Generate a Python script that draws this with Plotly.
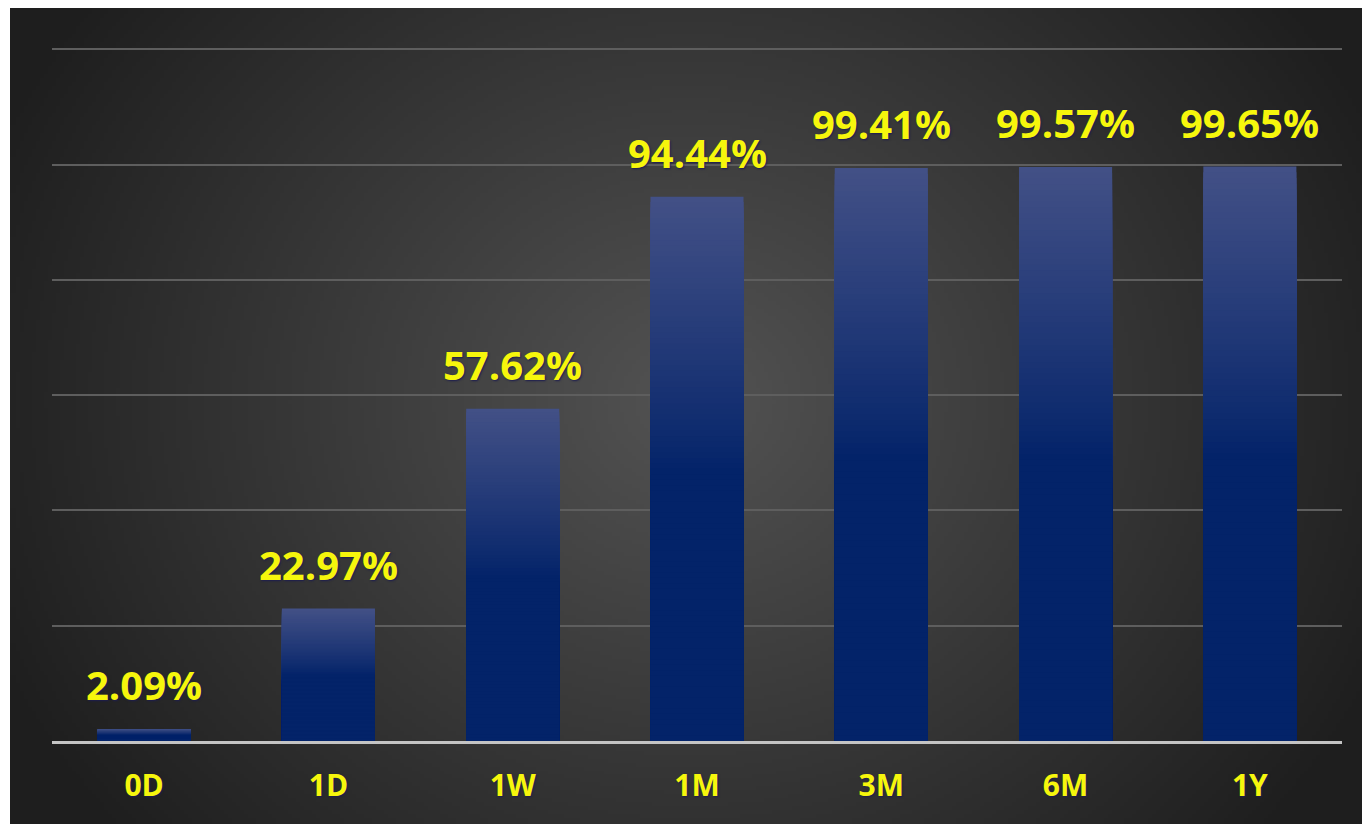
import base64, struct, zlib
import numpy as np
import plotly.graph_objects as go

# ---- data ----
categories = ["0D", "1D", "1W", "1M", "3M", "6M", "1Y"]
values = [2.09, 22.97, 57.62, 94.44, 99.41, 99.57, 99.65]
labels = [f"{v:.2f}%" for v in values]

# ---- figure geometry (page body has an 8px margin) ----
OFF = 8
W, H = 1370 - OFF, 824 - OFF
ML, MT = 52 - OFF, 47 - OFF
MR = W - (1342 - OFF)
MB = H - (741 - OFF)
PW, PH = W - ML - MR, H - MT - MB

# ---- radial background image (style only) ----
def png_uri(arr):
    h, w, _ = arr.shape
    raw = b"".join(b"\x00" + arr[i].tobytes() for i in range(h))
    def chunk(tag, data):
        return (struct.pack(">I", len(data)) + tag + data +
                struct.pack(">I", zlib.crc32(tag + data) & 0xFFFFFFFF))
    png = (b"\x89PNG\r\n\x1a\n" +
           chunk(b"IHDR", struct.pack(">IIBBBBB", w, h, 8, 2, 0, 0, 0)) +
           chunk(b"IDAT", zlib.compress(raw, 9)) + chunk(b"IEND", b""))
    return "data:image/png;base64," + base64.b64encode(png).decode()

BX0, BY0 = 10 - OFF, 0  # figure-pixel origin of the dark panel
bw, bh = 340, 205
xs = np.linspace(10, 1370, bw)
ys = np.linspace(6, 824, bh)
X, Y = np.meshgrid(xs, ys)
d = np.sqrt(((X - 690) / 720) ** 2 + ((Y - 400) / 640) ** 2)
c = np.clip(83 - 50 * d, 30, 90)
bg = np.stack([c, c, c], axis=-1).astype(np.uint8)
bg_uri = png_uri(bg)

fig = go.Figure()

# ---- gradient bars via overlaid bars of decreasing height ----
N = 100
light = np.array([0x42, 0x50, 0x86])
dark = np.array([0x03, 0x23, 0x69])
for k in range(N, 0, -1):
    f = k / N
    t = np.clip((f - 0.5) / 0.5, 0, 1) ** 0.9
    col = dark + (light - dark) * t
    colstr = "rgb(%d,%d,%d)" % tuple(col.round().astype(int))
    fig.add_trace(go.Bar(
        x=categories,
        y=[v * f for v in values],
        marker=dict(color=colstr, line=dict(width=0)),
        width=0.505,
        hoverinfo="skip",
        showlegend=False,
    ))

# ---- value labels ----
for cat, v, lab in zip(categories, values, labels):
    fig.add_annotation(
        x=cat, y=v, text=lab, showarrow=False,
        yanchor="bottom", yshift=15,
        font=dict(family="Open Sans", size=40, color="#f6f60c", weight="bold",
                  shadow="1px 1px 2px #1c1c50"),
    )

fig.update_layout(
    width=W, height=H,
    margin=dict(l=ML, r=MR, t=MT, b=MB),
    paper_bgcolor="white",
    plot_bgcolor="rgba(0,0,0,0)",
    barmode="overlay",
    showlegend=False,
    images=[dict(
        source=bg_uri, xref="paper", yref="paper",
        x=(BX0 - ML) / PW, y=(H - MB - BY0) / PH,
        sizex=(W - BX0) / PW, sizey=(H - BY0) / PH,
        xanchor="left", yanchor="top", sizing="stretch", layer="below",
    )],
    xaxis=dict(
        showgrid=False, showline=True, linecolor="#c4c4c4", linewidth=3,
        ticks="", ticklabelstandoff=16,
        tickfont=dict(family="Open Sans", size=30, color="#f6f60c", weight="bold",
                      shadow="1px 1px 2px #1c1c50"),
    ),
    yaxis=dict(
        range=[0, 120.4], tickvals=[20, 40, 60, 80, 100, 120], showticklabels=False,
        showgrid=True, gridcolor="#5e5e5e", gridwidth=2,
        zeroline=False, showline=False,
    ),
)

fig.write_html("out.html")
